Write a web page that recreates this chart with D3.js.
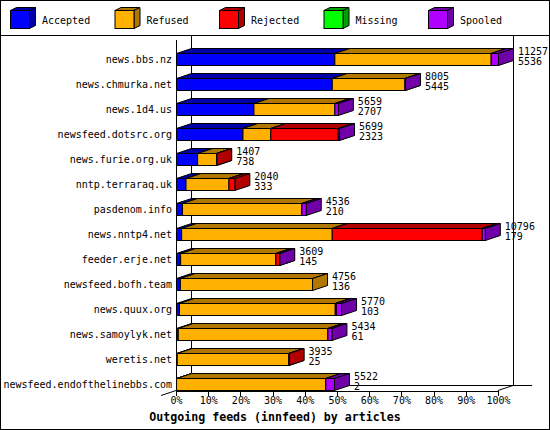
<!DOCTYPE html>
<html>
<head>
<meta charset="utf-8">
<script src="https://cdn.jsdelivr.net/npm/d3@7"></script>
<style>
  body { margin: 0; background: #fff; }
  text { font-family: "DejaVu Sans Mono", monospace; fill: #000; }
</style>
</head>
<body>
<div id="chart"></div>
<script>
// Feeds (top to bottom)
const feeds = [
    "news.bbs.nz", "news.chmurka.net", "news.1d4.us", "newsfeed.dotsrc.org",
    "news.furie.org.uk", "nntp.terraraq.uk", "pasdenom.info", "news.nntp4.net",
    "feeder.erje.net", "newsfeed.bofh.team", "news.quux.org", "news.samoylyk.net",
    "weretis.net", "newsfeed.endofthelinebbs.com"
];

// Article counts per feed
const accepted = [5536, 5445, 2707, 2323, 738, 333, 210, 179, 145, 136, 103, 61, 25, 2];
const refused  = [5464, 2540, 2828, 975, 660, 1500, 4171, 5265, 3328, 4620, 5447, 5230, 3900, 5216];
const rejected = [0, 0, 0, 2356, 9, 207, 0, 5244, 129, 0, 35, 0, 10, 0];
const missing  = [0, 0, 0, 0, 0, 0, 0, 0, 0, 0, 0, 0, 0, 0];
const spooled  = [257, 20, 124, 45, 0, 0, 155, 108, 7, 0, 185, 143, 0, 304];

const seriesNames = ["Accepted", "Refused", "Rejected", "Missing", "Spooled"];
const xTicks = [0, 10, 20, 30, 40, 50, 60, 70, 80, 90, 100];

document.addEventListener("DOMContentLoaded", () => {
    const W = 550, H = 430;
    const dx = 15, dy = 5;       // 3d depth of the bars
    const barH = 12;

    // front and side/top colours per series
    const front = ["#0000ff", "#ffb000", "#ff0000", "#00ff00", "#b000ff"];
    const shade = ["#0000a8", "#b07800", "#b00000", "#00a000", "#7000a8"];

    const series = [accepted, refused, rejected, missing, spooled];
    const totals = feeds.map((f, i) => d3.sum(series, s => s[i]));
    const maxTotal = d3.max(totals);

    const svg = d3.select("#chart")
        .append("svg")
        .attr("width", W)
        .attr("height", H);

    // Outer frame and legend separator
    svg.append("rect")
        .attr("x", 0.5).attr("y", 0.5)
        .attr("width", W - 1).attr("height", H - 1)
        .attr("fill", "#fff").attr("stroke", "#000");
    svg.append("line")
        .attr("x1", 0).attr("x2", W).attr("y1", 35.5).attr("y2", 35.5)
        .attr("stroke", "#000");

    // Legend (small cubes)
    const legend = svg.append("g").selectAll("g")
        .data(seriesNames)
        .enter()
        .append("g")
        .attr("transform", (d, i) => `translate(${10 + i * 104.5},0)`);
    legend.append("polygon")
        .attr("points", "0.5,10.5 6.5,7.5 25.5,7.5 19.5,10.5")
        .attr("fill", (d, i) => shade[i]).attr("stroke", "#000");
    legend.append("polygon")
        .attr("points", "19.5,10.5 25.5,7.5 25.5,25.5 19.5,28.5")
        .attr("fill", (d, i) => shade[i]).attr("stroke", "#000");
    legend.append("rect")
        .attr("x", 0.5).attr("y", 10.5).attr("width", 19).attr("height", 18)
        .attr("fill", (d, i) => front[i]).attr("stroke", "#000");
    legend.append("text")
        .attr("x", 32).attr("y", 23.5)
        .style("font-size", "10px")
        .text(d => d);

    // Scales
    const x = d3.scaleLinear().domain([0, 100]).range([176, 498]);
    const y = d3.scaleBand().domain(feeds).range([40, 390]);
    const pct = v => v / maxTotal * 100;

    // Back walls and floor
    const grid = svg.append("g").attr("stroke", "#000").attr("shape-rendering", "crispEdges");
    grid.append("line").attr("x1", 191.5).attr("x2", 191.5).attr("y1", 35).attr("y2", 385);
    grid.append("line").attr("x1", 513.5).attr("x2", 513.5).attr("y1", 35).attr("y2", 385);
    grid.append("line").attr("x1", 191).attr("x2", 532).attr("y1", 385.5).attr("y2", 385.5);
    grid.append("line").attr("x1", 176.5).attr("x2", 176.5).attr("y1", 40).attr("y2", 390);
    svg.append("line")
        .attr("x1", x(0) - dx).attr("y1", 395.5).attr("x2", x(0)).attr("y2", 390.5)
        .attr("stroke", "#000");
    svg.append("line")
        .attr("x1", x(100)).attr("y1", 390.5).attr("x2", x(100) + dx).attr("y2", 385.5)
        .attr("stroke", "#000");

    // Stacked 3d bars
    const bars = svg.append("g")
        .attr("stroke", "#000")
        .attr("stroke-linejoin", "miter");

    feeds.forEach((feed, i) => {
        const yb = y(feed) + y.bandwidth() + 0.5;
        const yt = yb - barH;
        let cum = 0;
        series.forEach((s, k) => {
            const v = s[i];
            if (v <= 0) return;
            const x0 = x(pct(cum)) + 0.5;
            const x1 = x(pct(cum + v)) + 0.5;
            cum += v;
            // top face
            bars.append("polygon")
                .attr("points", [[x0, yt], [x0 + dx, yt - dy], [x1 + dx, yt - dy], [x1, yt]].join(" "))
                .attr("fill", shade[k]);
            // right side
            bars.append("polygon")
                .attr("points", [[x1, yt], [x1 + dx, yt - dy], [x1 + dx, yb - dy], [x1, yb]].join(" "))
                .attr("fill", shade[k]);
            // front face
            bars.append("rect")
                .attr("x", x0).attr("y", yt)
                .attr("width", Math.max(0, x1 - x0)).attr("height", barH)
                .attr("fill", front[k]);
        });

        // total / accepted labels
        const lx = x(pct(totals[i])) + 20;
        svg.append("text")
            .attr("x", lx).attr("y", yb - 11)
            .style("font-size", "10px")
            .text(totals[i]);
        svg.append("text")
            .attr("x", lx).attr("y", yb - 1)
            .style("font-size", "10px")
            .text(accepted[i]);
    });

    // Category labels
    svg.append("g").selectAll("text")
        .data(feeds)
        .enter()
        .append("text")
        .attr("x", 172)
        .attr("y", d => y(d) + y.bandwidth() - 2)
        .attr("text-anchor", "end")
        .style("font-size", "10px")
        .text(d => d);

    // X axis
    const axis = svg.append("g")
        .attr("transform", "translate(0,390.5)")
        .call(d3.axisBottom(x).tickValues(xTicks).tickFormat(d => d + "%").tickSize(5).tickSizeOuter(0));
    axis.selectAll("path, line").attr("stroke", "#000").attr("shape-rendering", "crispEdges");
    axis.selectAll("text")
        .attr("y", 13)
        .attr("dy", null)
        .style("font-family", "DejaVu Sans Mono, monospace")
        .style("font-size", "10px");

    // Title
    svg.append("text")
        .attr("x", W / 2)
        .attr("y", 421)
        .attr("text-anchor", "middle")
        .style("font-size", "11.6px")
        .style("font-weight", "bold")
        .text("Outgoing feeds (innfeed) by articles");
});
</script>
</body>
</html>
